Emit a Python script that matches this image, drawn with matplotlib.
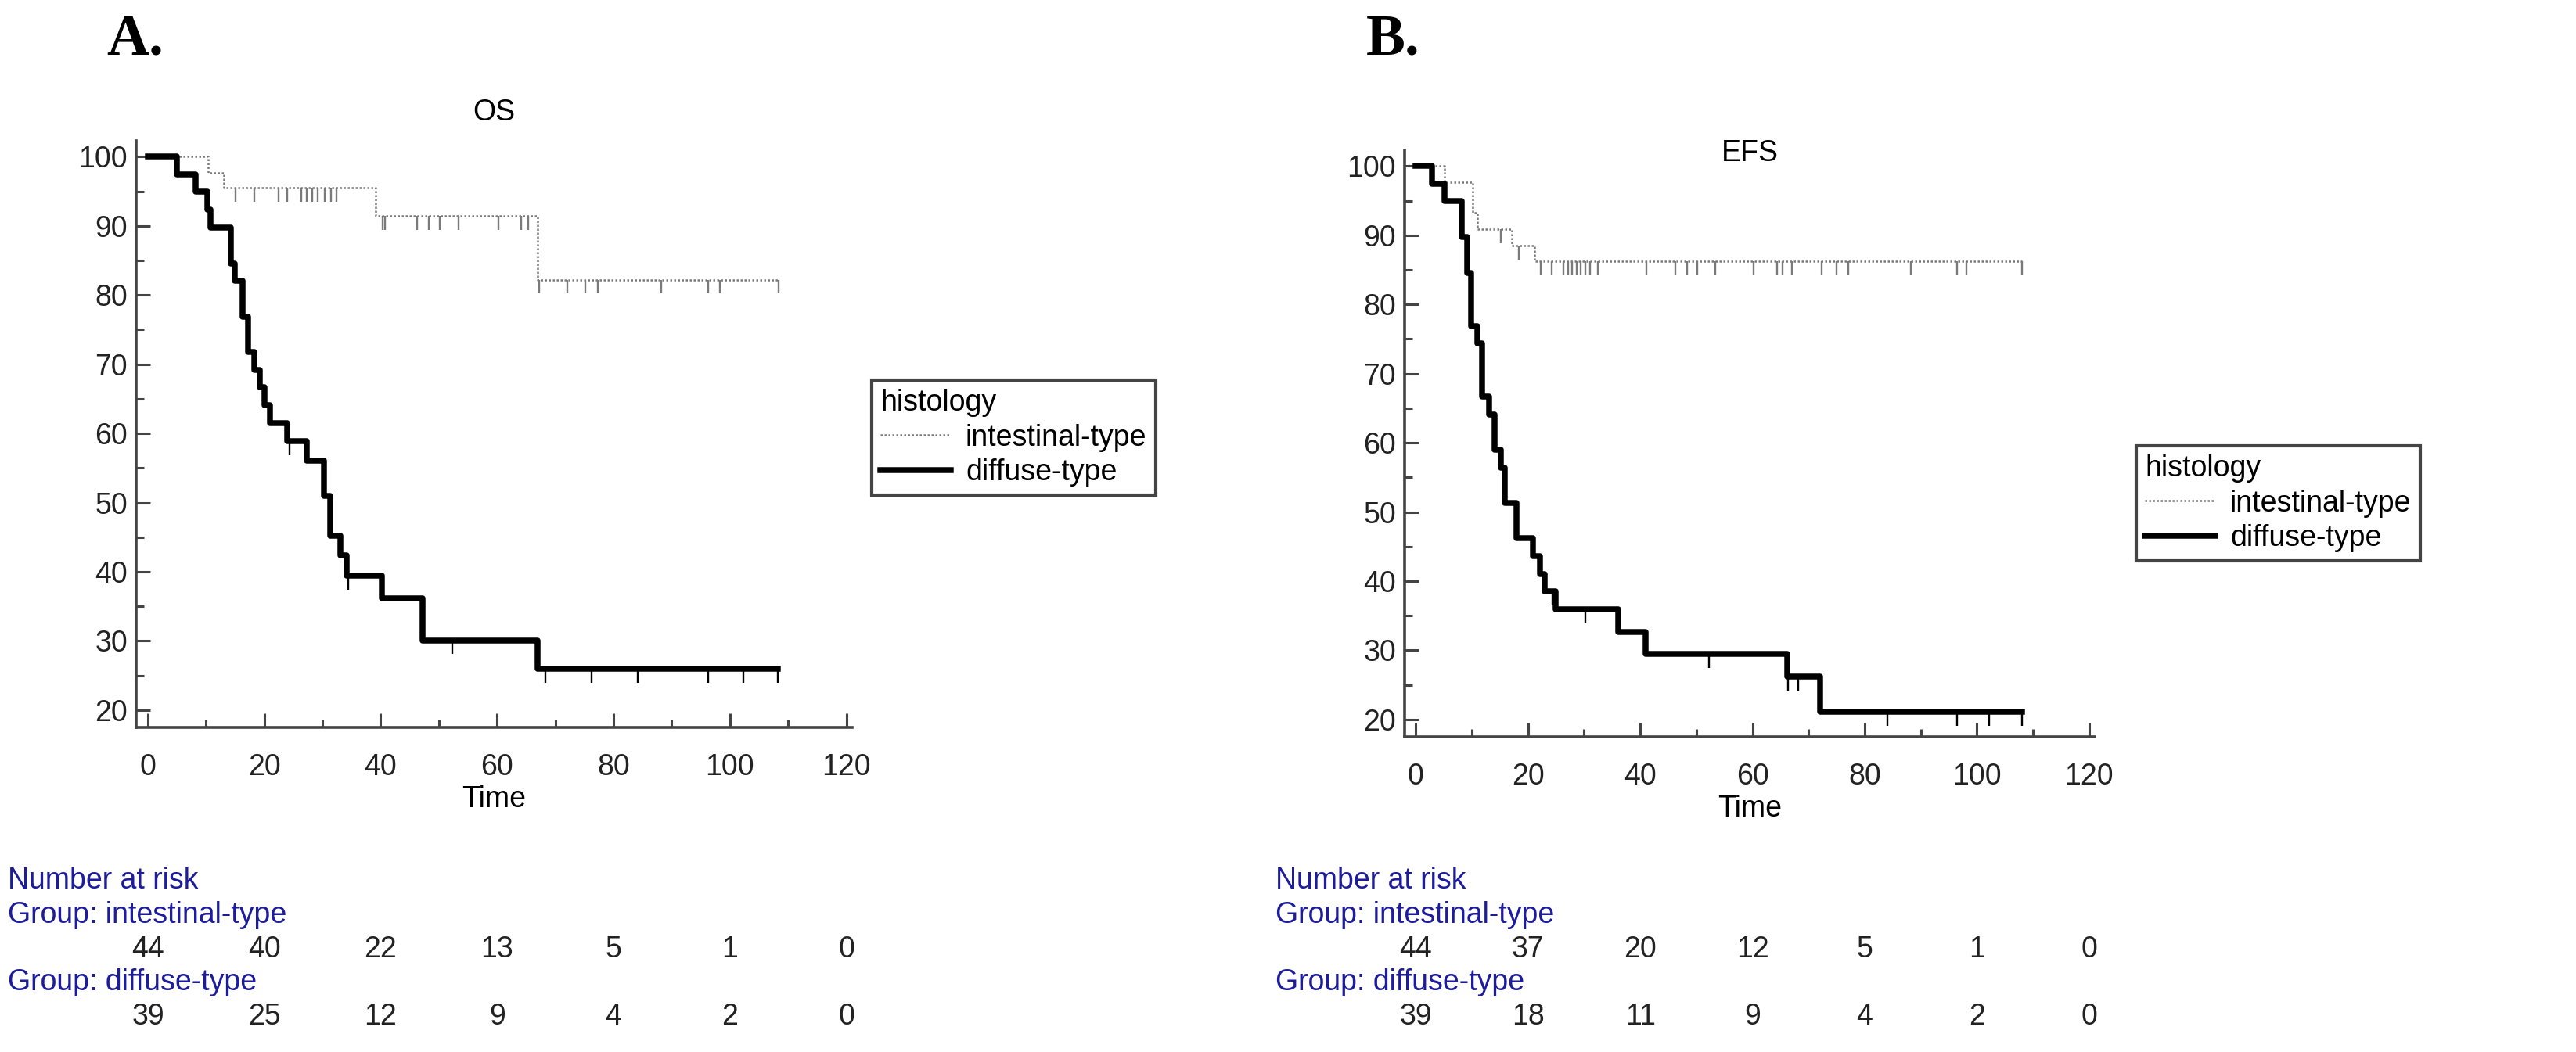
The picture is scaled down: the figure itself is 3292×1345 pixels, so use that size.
import numpy as np
import matplotlib
matplotlib.use("Agg")
import matplotlib.pyplot as plt
from matplotlib.lines import Line2D
from matplotlib.transforms import blended_transform_factory

# ======================
# dados
# ======================
# OS (painel A)
os_diff_t = [5.0, 8.2, 10.2, 10.8, 14.3, 15.0, 16.3, 17.2, 18.3, 19.2, 20.0, 21.0,
             23.9, 27.3, 30.2, 31.3, 33.1, 34.1, 40.2, 47.2, 66.9]
os_diff_s = [97.4, 94.9, 92.3, 89.7, 84.6, 82.1, 76.9, 71.8, 69.2, 66.7, 64.1, 61.5,
             58.9, 56.1, 51.0, 45.2, 42.4, 39.4, 36.2, 30.1, 26.0]
os_diff_cens = [24.3, 34.4, 52.3, 68.3, 76.2, 84.1, 96.3, 102.3, 108.2]

os_int_t = [10.3, 13.0, 39.1, 66.9]
os_int_s = [97.7, 95.5, 91.4, 82.2]
os_int_cens = [15.1, 18.3, 22.4, 24.0, 26.3, 27.3, 28.2, 29.2, 30.4, 31.5, 32.4,
               40.3, 40.8, 46.2, 48.3, 50.2, 53.4, 60.3, 64.1, 65.3,
               67.2, 72.1, 75.2, 77.3, 88.2, 96.3, 98.3, 108.4]

# EFS (painel B)
efs_diff_t = [2.9, 5.1, 8.2, 9.1, 9.9, 10.9, 11.8, 13.1, 14.1, 15.1, 15.9, 18.0,
              20.9, 22.1, 23.0, 24.9, 36.1, 40.9, 66.2, 72.0]
efs_diff_s = [97.4, 94.9, 89.7, 84.6, 76.9, 74.4, 66.7, 64.1, 59.0, 56.4, 51.3, 46.2,
              43.6, 41.0, 38.5, 35.9, 32.6, 29.5, 26.2, 21.1]
efs_diff_cens = [24.3, 30.2, 52.2, 66.4, 68.1, 84.1, 96.5, 102.2, 108.0]

efs_int_t = [5.1, 10.1, 10.9, 17.1, 21.1]
efs_int_s = [97.7, 93.2, 90.9, 88.5, 86.2]
efs_int_cens = [15.1, 18.3, 22.3, 24.2, 26.3, 27.1, 27.9, 28.7, 29.4, 30.2, 31.0, 32.4,
                41.1, 46.2, 48.3, 50.1, 53.4, 60.2, 64.4, 65.3, 67.0, 72.3, 75.0, 77.1,
                88.2, 96.5, 98.1, 108.0]

risk_times = [0, 20, 40, 60, 80, 100, 120]
os_risk_int = [44, 40, 22, 13, 5, 1, 0]
os_risk_diff = [39, 25, 12, 9, 4, 2, 0]
efs_risk_int = [44, 37, 20, 12, 5, 1, 0]
efs_risk_diff = [39, 18, 11, 9, 4, 2, 0]

# ======================
# estilo
# ======================
plt.rcParams['font.family'] = ['Liberation Sans', 'DejaVu Sans']
W, H = 3292, 1345
AXC = '#444444'
BLUE = '#1c1c9c'
FS = 27
LW_DIFF = 5.4

fig = plt.figure(figsize=(W / 100, H / 100), dpi=100)


def rect(l, t, r, b):
    return [l / W, 1 - b / H, (r - l) / W, (b - t) / H]


def surv_at(times, surv, x):
    idx = np.searchsorted(times, x, side='right') - 1
    return 100.0 if idx < 0 else surv[idx]


def curva(ax, times, surv, cens, **kw):
    end = max(cens)
    xs = np.r_[0, times, end]
    ys = np.r_[100, surv, surv[-1]]
    ax.step(xs, ys, where='post', **kw)
    cy = [surv_at(times, surv, c) for c in cens]
    ax.vlines(cens, np.array(cy) - 2.0, cy, colors=kw.get('color'), linewidth=1.7)


def painel(box, titulo, titulo_y, letra, letra_x, dados, risco, leg_xy, tab_x):
    ax = fig.add_axes(rect(*box))
    (it, is_, ic), (dt, ds, dc) = dados
    curva(ax, it, is_, ic, color='#7a7a7a', linewidth=1.8, linestyle=(0, (1, 1)))
    curva(ax, dt, ds, dc, color='black', linewidth=LW_DIFF)

    ax.set_xlim(-2.0, 121)
    ax.set_ylim(17.5, 102.3)
    ax.set_xticks(range(0, 121, 20))
    ax.set_xticks(range(0, 121, 10), minor=True)
    ax.set_yticks(range(20, 101, 10))
    ax.set_yticks(range(20, 101, 5), minor=True)
    ax.tick_params(which='both', direction='in', color=AXC, width=2.2,
                   labelsize=FS, labelcolor='#222222')
    ax.tick_params(which='major', length=13)
    ax.tick_params(which='minor', length=7)
    ax.tick_params(axis='x', pad=24)
    ax.tick_params(axis='y', pad=8)
    for s in ['top', 'right']:
        ax.spines[s].set_visible(False)
    for s in ['left', 'bottom']:
        ax.spines[s].set_color(AXC)
        ax.spines[s].set_linewidth(2.6)
    ax.set_xlabel('Time', fontsize=FS, labelpad=3)

    cx = (box[0] + box[2]) / 2
    fig.text(cx / W, 1 - titulo_y / H, titulo, fontsize=FS, ha='center', va='center')
    fig.text(letra_x / W, 1 - 70 / H, letra, fontsize=54, fontweight='bold',
             family='Liberation Serif', va='baseline')

    hands = [Line2D([], [], color='#7a7a7a', linewidth=1.8, linestyle=(0, (1, 1))),
             Line2D([], [], color='black', linewidth=LW_DIFF)]
    leg = fig.legend(hands, ['intestinal-type', 'diffuse-type'], title='histology',
                     loc='upper left', bbox_to_anchor=(leg_xy[0] / W, 1 - leg_xy[1] / H),
                     fontsize=FS, title_fontsize=FS, alignment='left', fancybox=False,
                     edgecolor=AXC, framealpha=1, handlelength=2.4, borderpad=0.3,
                     labelspacing=0.22, handletextpad=0.5, borderaxespad=0)
    leg.get_frame().set_linewidth(3)

    tr = blended_transform_factory(ax.transData, fig.transFigure)
    fig.text(tab_x / W, 1 - 1126 / H, 'Number at risk', color=BLUE, fontsize=FS, va='center')
    fig.text(tab_x / W, 1 - 1170 / H, 'Group: intestinal-type', color=BLUE, fontsize=FS, va='center')
    fig.text(tab_x / W, 1 - 1256 / H, 'Group: diffuse-type', color=BLUE, fontsize=FS, va='center')
    for t, a, b in zip(risk_times, risco[0], risco[1]):
        ax.text(t, 1 - 1214 / H, str(a), transform=tr, fontsize=FS, ha='center',
                va='center', color='#222222')
        ax.text(t, 1 - 1300 / H, str(b), transform=tr, fontsize=FS, ha='center',
                va='center', color='#222222')
    return ax


painel((174, 180, 1089, 930), 'OS', 144, 'A.', 136,
       ((os_int_t, os_int_s, os_int_cens), (os_diff_t, os_diff_s, os_diff_cens)),
       (os_risk_int, os_risk_diff), (1114, 486), 10)

painel((1795, 192, 2677, 942), 'EFS', 196, 'B.', 1746,
       ((efs_int_t, efs_int_s, efs_int_cens), (efs_diff_t, efs_diff_s, efs_diff_cens)),
       (efs_risk_int, efs_risk_diff), (2730, 570), 1630)

fig.savefig('out.png', dpi=100, facecolor='white')
